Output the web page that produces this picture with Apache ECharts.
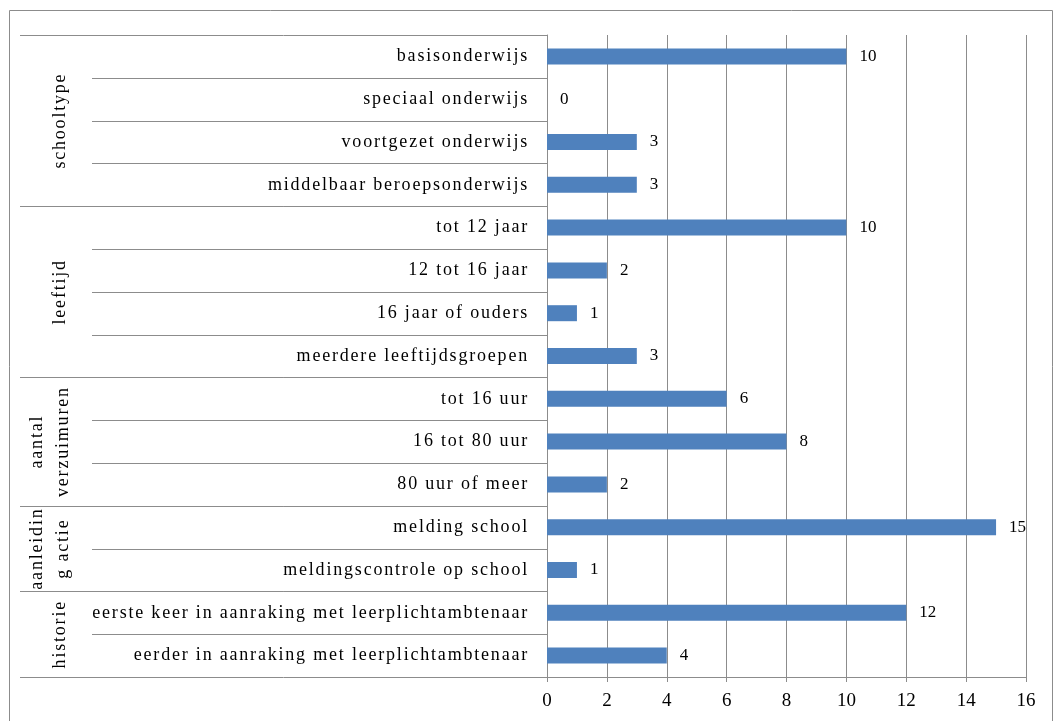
<!DOCTYPE html>
<html>
<head>
<meta charset="utf-8">
<script src="https://cdn.jsdelivr.net/npm/echarts@6/dist/echarts.min.js"></script>
<style>
  html, body { margin: 0; padding: 0; background: #fff; }
  #main { width: 1053px; height: 721px; }
</style>
</head>
<body>
<div id="main"></div>
<script>
// categories, top to bottom
const categories = [
  'basisonderwijs',
  'speciaal onderwijs',
  'voortgezet onderwijs',
  'middelbaar beroepsonderwijs',
  'tot 12 jaar',
  '12 tot 16 jaar',
  '16 jaar of ouders',
  'meerdere leeftijdsgroepen',
  'tot 16 uur',
  '16 tot 80 uur',
  '80 uur of meer',
  'melding school',
  'meldingscontrole op school',
  'eerste keer in aanraking met leerplichtambtenaar',
  'eerder in aanraking met leerplichtambtenaar'
]
const values = [10, 0, 3, 3, 10, 2, 1, 3, 6, 8, 2, 15, 1, 12, 4]

// outer level of the category axis
const groupNames = ['schooltype', 'leeftijd', 'aantal\nverzuimuren', 'aanleidin\ng actie', 'historie']
const groupSizes = [4, 4, 3, 2, 2]

const xTicks = [0, 2, 4, 6, 8, 10, 12, 14, 16]

const FONT = '"Liberation Serif", "DejaVu Serif", serif'
const LINE = '#8c8c8c'
const LABEL_SIZE = 18

// the axis labels in the original are widely spaced: give text drawn at
// LABEL_SIZE some letter spacing, everything else none
const baseFillText = CanvasRenderingContext2D.prototype.fillText
CanvasRenderingContext2D.prototype.fillText = function (text, x, y, maxWidth) {
  if ('letterSpacing' in this) {
    this.letterSpacing = this.font.indexOf(LABEL_SIZE + 'px') >= 0 ? '1.8px' : '0px'
  }
  return maxWidth === undefined
    ? baseFillText.call(this, text, x, y)
    : baseFillText.call(this, text, x, y, maxWidth)
}

const chart = echarts.init(document.getElementById('main'))

chart.setOption({
  animation: false,
  grid: { left: 547, right: 27, top: 35, bottom: 44, containLabel: false },
  xAxis: {
    type: 'value',
    min: xTicks[0],
    max: xTicks[xTicks.length - 1],
    interval: 2,
    axisLine: { show: true, lineStyle: { color: LINE, width: 1 } },
    axisTick: { show: true, length: 5, lineStyle: { color: LINE } },
    splitLine: { show: true, lineStyle: { color: LINE, width: 1 } },
    axisLabel: { color: '#000', fontFamily: FONT, fontSize: 19, margin: 15 }
  },
  yAxis: {
    type: 'category',
    inverse: true,
    data: categories,
    axisLine: { show: true, lineStyle: { color: LINE, width: 1 } },
    axisTick: { show: false },
    axisLabel: { color: '#000', fontFamily: FONT, fontSize: LABEL_SIZE, margin: 18 }
  },
  series: [{
    type: 'bar',
    data: values,
    barWidth: 16,
    itemStyle: { color: '#4f81bd' },
    label: {
      show: true,
      position: 'right',
      distance: 13,
      color: '#000',
      fontFamily: FONT,
      fontSize: 17
    }
  }]
})

// draw the multi-level axis lines and group labels
function drawAxisGroups() {
  const y0 = chart.convertToPixel({ yAxisIndex: 0 }, 0)
  const y1 = chart.convertToPixel({ yAxisIndex: 0 }, 1)
  const band = y1 - y0
  const axisX = chart.convertToPixel({ xAxisIndex: 0 }, 0)
  const elements = []

  // outer frame
  elements.push({
    type: 'rect',
    shape: { x: 9.5, y: 10.5, width: 1043, height: 720 },
    style: { fill: null, stroke: LINE, lineWidth: 1 },
    silent: true
  })

  let start = 0
  groupSizes.forEach((size, g) => {
    for (let i = start; i <= start + size; i++) {
      const y = Math.round(y0 - band / 2 + i * band) + 0.5
      const isGroupEdge = i === start || i === start + size
      elements.push({
        type: 'line',
        shape: { x1: isGroupEdge ? 20 : 92, y1: y, x2: axisX, y2: y },
        style: { stroke: LINE, lineWidth: 1 },
        silent: true
      })
    }
    const midY = y0 - band / 2 + (start + size / 2) * band
    const twoLines = groupNames[g].indexOf('\n') >= 0
    elements.push({
      type: 'text',
      x: twoLines ? 50 : 60,
      y: midY,
      rotation: Math.PI / 2,
      style: {
        text: groupNames[g],
        fontFamily: FONT,
        fontSize: LABEL_SIZE,
        lineHeight: 26,
        fill: '#000',
        align: 'center',
        verticalAlign: 'middle'
      },
      silent: true
    })
    start += size
  })

  chart.setOption({ graphic: { elements: elements } })
}

drawAxisGroups()
</script>
</body>
</html>
